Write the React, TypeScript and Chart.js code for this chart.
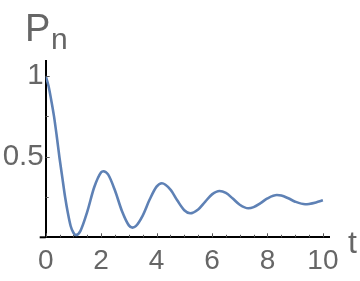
import React, { useEffect, useRef } from 'react';
import { Chart, registerables } from 'chart.js';

Chart.register(...registerables);

// Curve samples
const tValues = [
  0, 0.1, 0.2, 0.3, 0.4, 0.5, 0.6, 0.7, 0.8, 0.9,
  1.0, 1.09, 1.25, 1.5, 1.75, 2.0, 2.08, 2.25, 2.5, 2.75,
  3.0, 3.13, 3.25, 3.5, 3.75, 4.0, 4.19, 4.5, 4.75, 5.0,
  5.21, 5.5, 5.75, 6.0, 6.27, 6.5, 6.75, 7.0, 7.31, 7.5,
  7.75, 8.0, 8.34, 8.5, 8.75, 9.0, 9.36, 9.5, 9.75, 10.0,
];
const pValues = [
  1.0, 0.94, 0.85, 0.75, 0.625, 0.49, 0.37, 0.25, 0.15, 0.07,
  0.028, 0.014, 0.039, 0.159, 0.31, 0.403, 0.41, 0.39, 0.29, 0.163,
  0.074, 0.06, 0.069, 0.135, 0.234, 0.314, 0.335, 0.296, 0.228, 0.168,
  0.149, 0.173, 0.22, 0.266, 0.287, 0.275, 0.24, 0.202, 0.18, 0.187,
  0.212, 0.241, 0.262, 0.259, 0.242, 0.221, 0.205, 0.207, 0.216, 0.229,
];

const xMajorTicks = [0, 2, 4, 6, 8, 10];
const xMinorTicks = [0.5, 1, 1.5, 2.5, 3, 3.5, 4.5, 5, 5.5, 6.5, 7, 7.5, 8.5, 9, 9.5];
const yMajorTicks = [0.5, 1];
const yMinorTicks = [0.25, 0.75];

const yAxisTitle = 'P';
const yAxisSub = 'n';
const xAxisTitle = 't';

const LABEL_COLOR = '#666666';
const FONT = '"Liberation Sans", Arial, sans-serif';

const decorPlugin = {
  id: 'decor',
  afterDraw(chart: any) {
    const { ctx, scales } = chart;
    const xs = scales.x;
    const ys = scales.y;
    const x0 = xs.getPixelForValue(0);
    const y0 = ys.getPixelForValue(0);
    ctx.save();
    // x axis extension left of the y axis
    ctx.strokeStyle = '#000';
    ctx.lineWidth = 2;
    ctx.beginPath();
    ctx.moveTo(x0 - 6, y0);
    ctx.lineTo(x0, y0);
    ctx.stroke();
    // inward tick marks
    ctx.strokeStyle = '#555';
    ctx.lineWidth = 1;
    ctx.beginPath();
    xMajorTicks.forEach((v) => {
      const px = Math.round(xs.getPixelForValue(v)) + 0.5;
      ctx.moveTo(px, y0);
      ctx.lineTo(px, y0 - 4);
    });
    xMinorTicks.forEach((v) => {
      const px = Math.round(xs.getPixelForValue(v)) + 0.5;
      ctx.moveTo(px, y0);
      ctx.lineTo(px, y0 - 2.5);
    });
    yMajorTicks.forEach((v) => {
      const py = Math.round(ys.getPixelForValue(v)) + 0.5;
      ctx.moveTo(x0, py);
      ctx.lineTo(x0 + 4, py);
    });
    yMinorTicks.forEach((v) => {
      const py = Math.round(ys.getPixelForValue(v)) + 0.5;
      ctx.moveTo(x0, py);
      ctx.lineTo(x0 + 3, py);
    });
    ctx.stroke();
    // axis titles
    ctx.fillStyle = LABEL_COLOR;
    ctx.textAlign = 'left';
    ctx.textBaseline = 'alphabetic';
    ctx.font = `38px ${FONT}`;
    ctx.fillText(yAxisTitle, 25, 40.5);
    ctx.font = `30px ${FONT}`;
    ctx.fillText(yAxisSub, 51, 49);
    ctx.font = `32px ${FONT}`;
    ctx.fillText(xAxisTitle, 348, 253);
    ctx.restore();
  },
};

export default function App() {
  const ref = useRef<HTMLCanvasElement>(null);
  useEffect(() => {
    document.body.style.margin = '0';
    const canvas = ref.current;
    if (!canvas) return;
    const chart = new Chart(canvas, {
      type: 'line',
      data: {
        datasets: [
          {
            data: tValues.map((t, i) => ({ x: t, y: pValues[i] })),
            borderColor: '#5E81B5',
            borderWidth: 2.6,
            pointRadius: 0,
            fill: false,
            cubicInterpolationMode: 'monotone',
          },
        ],
      },
      options: {
        animation: false,
        responsive: false,
        events: [],
        layout: { padding: { top: 60.7, right: 31, left: 0, bottom: 0 } },
        plugins: {
          legend: { display: false },
          tooltip: { enabled: false },
          title: { display: false },
        },
        scales: {
          x: {
            type: 'linear',
            position: 'bottom',
            min: 0,
            max: 10.22,
            afterFit: (scale: any) => {
              scale.height = 43.7;
            },
            afterBuildTicks: (scale: any) => {
              scale.ticks = xMajorTicks.map((v) => ({ value: v }));
            },
            grid: { display: false, drawTicks: false },
            border: { display: true, color: '#000', width: 2 },
            ticks: {
              padding: 7,
              color: LABEL_COLOR,
              font: { family: FONT, size: 28 },
              maxRotation: 0,
              autoSkip: false,
              callback: (v: any) => String(v),
            },
          },
          y: {
            type: 'linear',
            position: 'left',
            min: 0,
            max: 1.095,
            afterFit: (scale: any) => {
              scale.width = 45.7;
            },
            afterBuildTicks: (scale: any) => {
              scale.ticks = yMajorTicks.map((v) => ({ value: v }));
            },
            grid: { display: false, drawTicks: false },
            border: { display: true, color: '#000', width: 2 },
            ticks: {
              padding: 2,
              color: LABEL_COLOR,
              font: { family: FONT, size: 29.5 },
              autoSkip: false,
              callback: (v: any) => String(v),
            },
          },
        },
      },
      plugins: [decorPlugin],
    });
    return () => chart.destroy();
  }, []);
  return <canvas ref={ref} width={360} height={281} style={{ display: 'block' }} />;
}
